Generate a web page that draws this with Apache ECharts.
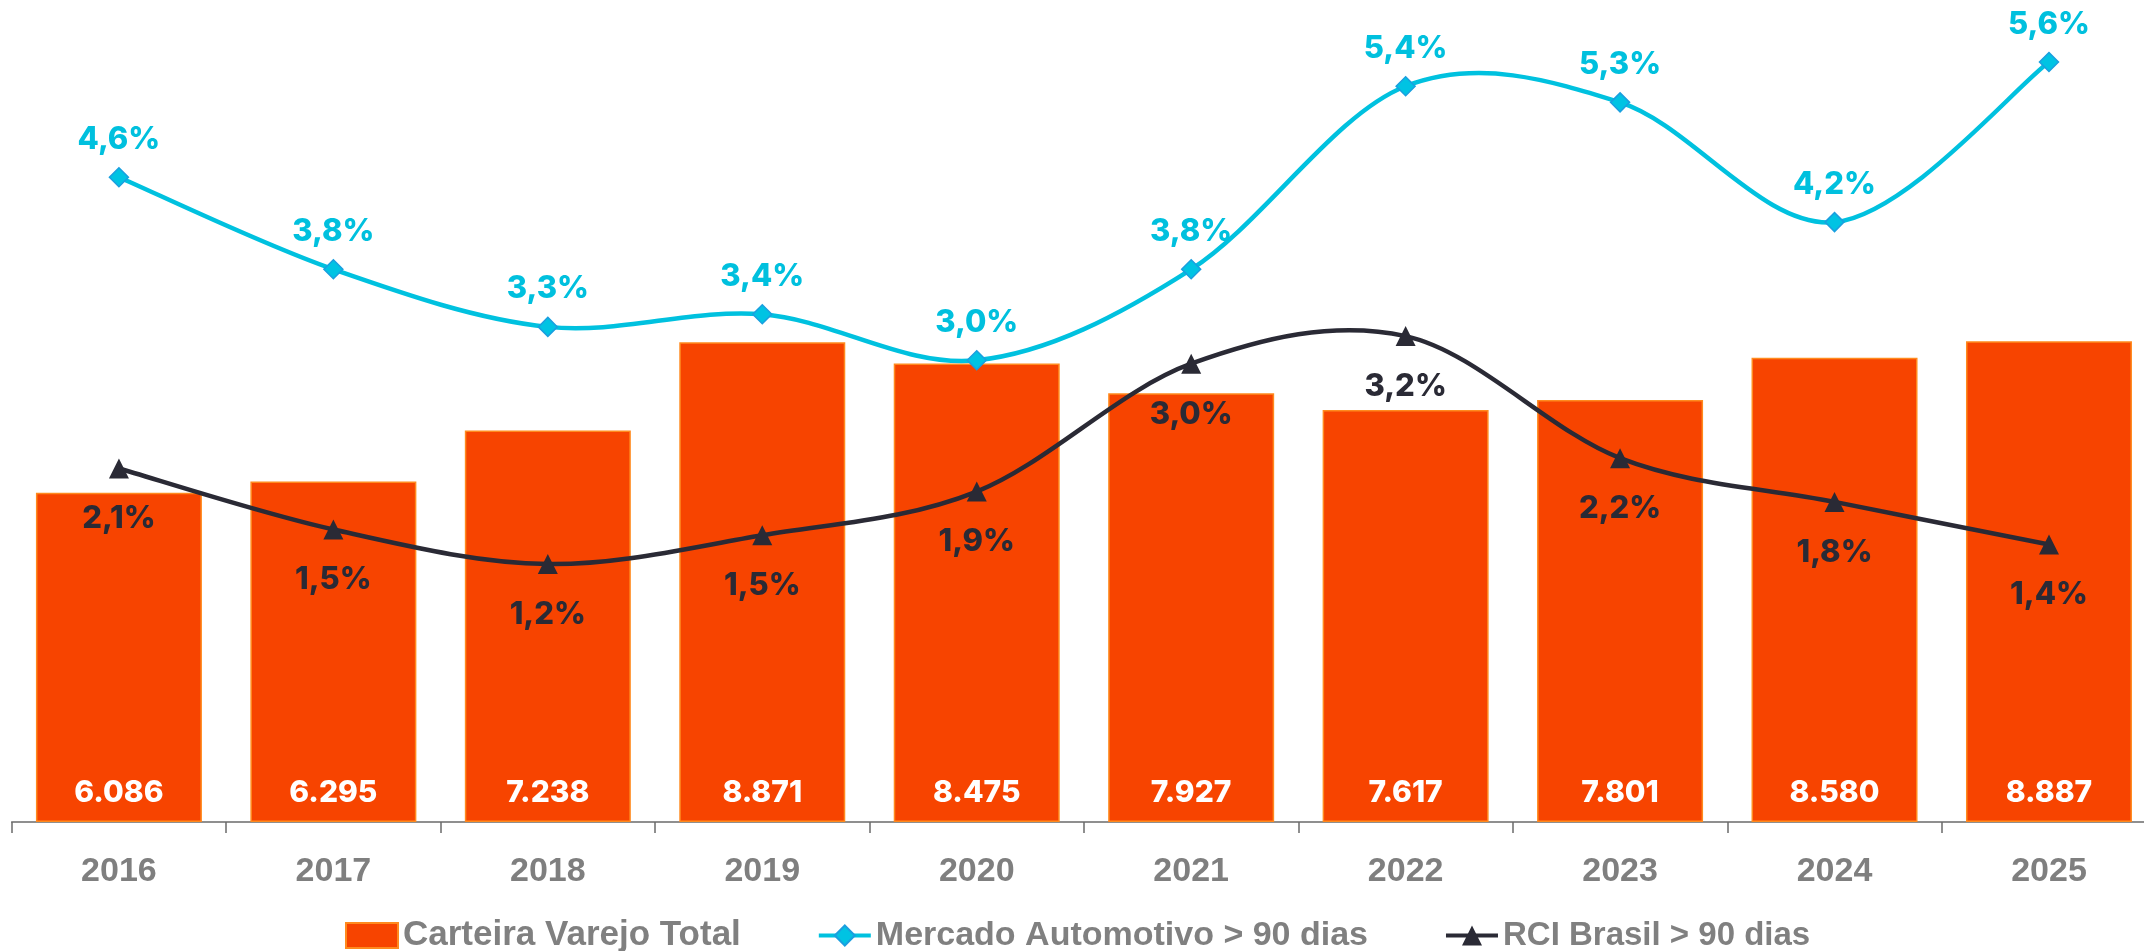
<!DOCTYPE html>
<html>
<head>
<meta charset="utf-8">
<script src="https://cdn.jsdelivr.net/npm/echarts@6/dist/echarts.min.js"></script>
<style>
html,body{margin:0;padding:0;background:#fff;overflow:hidden;width:2144px;height:951px;}
#chart{width:2157px;height:951px;}
</style>
</head>
<body>
<div id="chart"></div>
<script>
const years = ['2016','2017','2018','2019','2020','2021','2022','2023','2024','2025'];
const carteiraVarejo = [6086, 6295, 7238, 8871, 8475, 7927, 7617, 7801, 8580, 8887];
const mercadoAuto90 = [4.60, 3.80, 3.30, 3.41, 3.01, 3.80, 5.39, 5.25, 4.21, 5.60];
const rciBrasil90 = [2.07, 1.54, 1.24, 1.49, 1.87, 2.98, 3.22, 2.16, 1.78, 1.41];
const seriesNames = ['Carteira Varejo Total', 'Mercado Automotivo > 90 dias', 'RCI Brasil > 90 dias'];

const CYAN = '#00C1DF';
const DARK = '#2A2A35';

const pctFmt = p => p.value.toFixed(1).replace('.', ',') + '%';
const numFmt = p => String(p.value).replace(/\B(?=(\d{3})+(?!\d))/g, '.');
const labelFont = '"Liberation Sans", Arial, sans-serif';

// Smooth (Catmull-Rom style) curve segment drawn through the axis scales
function curveRenderer(values, color) {
  return function (params, api) {
    const i = params.dataIndex;
    const n = values.length;
    if (i >= n - 1) return null;
    const p = k => api.coord([Math.max(0, Math.min(n - 1, k)), values[Math.max(0, Math.min(n - 1, k))]]);
    const p0 = p(i - 1), p1 = p(i), p2 = p(i + 1), p3 = p(i + 2);
    return {
      type: 'bezierCurve',
      shape: {
        x1: p1[0], y1: p1[1], x2: p2[0], y2: p2[1],
        cpx1: p1[0] + (p2[0] - p0[0]) / 6, cpy1: p1[1] + (p2[1] - p0[1]) / 6,
        cpx2: p2[0] - (p3[0] - p1[0]) / 6, cpy2: p2[1] - (p3[1] - p1[1]) / 6
      },
      style: {stroke: color, lineWidth: 4.5, fill: null, lineCap: 'round'},
      silent: true
    };
  };
}

const chart = echarts.init(document.getElementById('chart'), null, {renderer: 'canvas'});
chart.setOption({
  animation: false,
  backgroundColor: '#ffffff',
  grid: {left: 11.7, right: 0.8, top: 16, bottom: 129, containLabel: false},
  legend: {
    left: 340,
    top: 913,
    itemWidth: 52,
    itemHeight: 25,
    itemGap: 76,
    textStyle: {fontFamily: labelFont, fontWeight: 'bold', fontSize: 35, color: '#808080'},
    data: [
      {name: seriesNames[0], icon: 'rect'},
      {name: seriesNames[1], lineStyle: {width: 4, opacity: 1, color: CYAN},
        textStyle: {fontFamily: labelFont, fontWeight: 'bold', fontSize: 34, color: '#808080'}},
      {name: seriesNames[2], lineStyle: {width: 4, opacity: 1, color: DARK},
        textStyle: {fontFamily: labelFont, fontWeight: 'bold', fontSize: 33, color: '#808080'}}
    ]
  },
  xAxis: {
    type: 'category',
    data: years,
    boundaryGap: true,
    axisLine: {show: true, lineStyle: {color: '#6b6b6b', width: 1.5}},
    axisTick: {show: true, length: 11, lineStyle: {color: '#6b6b6b', width: 1.5}},
    axisLabel: {fontFamily: labelFont, fontWeight: 'bold', fontSize: 34, color: '#7f7f7f', margin: 33}
  },
  yAxis: [
    {type: 'value', min: 0, max: 14900, show: false, splitLine: {show: false}},
    {type: 'value', min: -1, max: 6, show: false, splitLine: {show: false}}
  ],
  series: [
    {
      name: seriesNames[0],
      type: 'bar',
      data: carteiraVarejo,
      yAxisIndex: 0,
      barWidth: '77.4%',
      itemStyle: {color: '#F74400', borderColor: '#FF8A1E', borderWidth: 1.5},
      label: {show: true, position: 'insideBottom', distance: 14, formatter: numFmt,
        fontFamily: 'Inter, sans-serif', fontWeight: 800, fontSize: 30, color: '#ffffff'},
      z: 1
    },
    {
      name: 'mercadoCurve',
      type: 'custom',
      yAxisIndex: 1,
      data: mercadoAuto90.map((v, i) => [i, v]),
      renderItem: curveRenderer(mercadoAuto90, CYAN),
      z: 2,
      silent: true
    },
    {
      name: 'rciCurve',
      type: 'custom',
      yAxisIndex: 1,
      data: rciBrasil90.map((v, i) => [i, v]),
      renderItem: curveRenderer(rciBrasil90, DARK),
      z: 2,
      silent: true
    },
    {
      name: seriesNames[1],
      type: 'line',
      data: mercadoAuto90,
      yAxisIndex: 1,
      symbol: 'diamond',
      symbolSize: 19,
      lineStyle: {color: CYAN, width: 4.5, opacity: 0},
      itemStyle: {color: '#00C3E3', borderColor: '#1A9FDF', borderWidth: 1.5},
      label: {show: true, position: 'top', distance: 12, formatter: pctFmt,
        fontFamily: 'Inter, sans-serif', fontWeight: 800, fontSize: 31, color: '#00C0DE'},
      z: 3
    },
    {
      name: seriesNames[2],
      type: 'line',
      data: rciBrasil90,
      yAxisIndex: 1,
      symbol: 'triangle',
      symbolSize: 20,
      lineStyle: {color: DARK, width: 4.5, opacity: 0},
      itemStyle: {color: DARK},
      label: {show: true, position: 'bottom', distance: 25, formatter: pctFmt,
        fontFamily: 'Inter, sans-serif', fontWeight: 800, fontSize: 31, color: DARK},
      z: 3
    }
  ]
});
</script>
</body>
</html>
